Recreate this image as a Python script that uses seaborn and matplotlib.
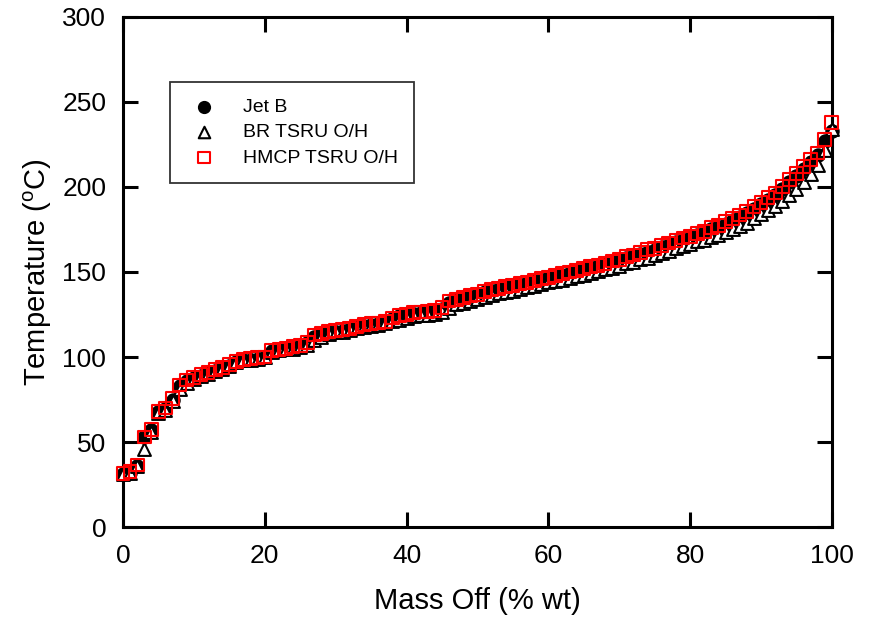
import matplotlib
matplotlib.use("Agg")
import matplotlib.pyplot as plt
import seaborn as sns
import numpy as np
import pandas as pd

# mass off, % wt (one reading per percent)
mass_off = list(range(0, 101))

# boiling temperature, deg C
jet_b = [31, 32, 36, 53, 57, 67.5, 69.5, 75, 83, 86,
         87.5, 89, 90.5, 92, 93.5, 95, 97, 98, 98.5, 99,
         100, 103.5, 104, 104.5, 105.5, 106.5, 108, 112, 113.5, 114.5,
         115, 115.5, 116.5, 117.5, 118.5, 119, 119.5, 120.5, 122.5, 124,
         124.5, 125.5, 126, 126.5, 127, 128.5, 132, 133.5, 134.5, 135.5,
         136.5, 138, 139, 140, 141, 141.5, 142.5, 143.5, 144.5, 145.5,
         146.5, 147.5, 148.5, 149.5, 150.5, 151.5, 152.5, 153.5, 154.5, 155.5,
         157, 158, 159.5, 160.5, 162, 163, 164.5, 166, 167.5, 169,
         170, 171.5, 173, 175, 176.5, 178.5, 180.5, 182.5, 184.5, 187,
         190, 192.5, 195, 199, 203, 206.5, 210.5, 214.5, 219, 227, 233]
br_tsru = [31, 32, 36, 46, 56, 67, 69, 74, 81, 85,
           87, 89, 90, 92, 93, 95, 97, 98, 98.5, 99,
           100, 103, 104, 104.5, 105, 106, 107, 110, 112, 113.5,
           114.5, 115, 116, 117, 117.5, 118, 119, 120, 121, 122,
           123, 124, 124.5, 125, 125.5, 126.5, 129, 131, 132, 133,
           134, 135.5, 136.5, 137.5, 138.5, 139, 140, 141, 142, 143,
           144, 144.5, 145.5, 146.5, 147.5, 148.5, 149.5, 150.5, 151.5, 152.5,
           153.5, 155, 156, 157.5, 158.5, 160, 161, 162.5, 164, 165,
           166.5, 168, 169, 170.5, 172, 173.5, 175.5, 177, 179, 181.5,
           184, 186.5, 189, 192, 195.5, 199, 203, 207.5, 213, 222, 234]
hmcp_tsru = [31.5, 32.5, 36.5, 53, 57.5, 68, 70, 75.5, 83.5, 86.5,
             88, 89.5, 91, 92.5, 94, 95.5, 97.5, 98.5, 99, 99.5,
             100, 104, 104.5, 105, 106, 107, 108.5, 113, 114, 115,
             115.5, 116, 117, 118, 119, 119.5, 120, 121, 123, 124.5,
             125, 126, 126.5, 127, 127.5, 129, 133, 134, 135, 136,
             137, 138.5, 139.5, 140.5, 141.5, 142, 143, 144, 145, 146,
             147, 148, 149, 150, 151, 152, 153, 154, 155, 156.5,
             157.5, 159, 160, 161.5, 163, 164, 165.5, 167, 168.5, 170,
             171, 172.5, 174, 176, 177.5, 179.5, 181.5, 183.5, 185.5, 188.5,
             191, 194, 196.5, 200.5, 204.5, 208, 212, 216, 220, 228, 238]

series_names = ["Jet B", "BR TSRU O/H", "HMCP TSRU O/H"]

df = pd.concat([
    pd.DataFrame({"mass": mass_off, "temp": jet_b, "fuel": series_names[0]}),
    pd.DataFrame({"mass": mass_off, "temp": br_tsru, "fuel": series_names[1]}),
    pd.DataFrame({"mass": mass_off, "temp": hmcp_tsru, "fuel": series_names[2]}),
])

sns.set_style("ticks")
plt.rcParams["font.family"] = ["Liberation Sans", "DejaVu Sans"]
plt.rcParams["mathtext.fontset"] = "custom"
plt.rcParams["mathtext.rm"] = "Liberation Sans"
plt.rcParams["text.color"] = "black"
plt.rcParams["axes.labelcolor"] = "black"
plt.rcParams["xtick.color"] = "black"
plt.rcParams["ytick.color"] = "black"

fig = plt.figure(figsize=(8.72, 6.26), dpi=100)
ax = fig.add_axes([0.141, 0.158, 0.813, 0.815])

styles = {
    "Jet B": dict(marker="o", color="black", edgecolor="black", linewidth=1.2),
    "BR TSRU O/H": dict(marker="^", color="white", edgecolor="black", linewidth=1.5),
    "HMCP TSRU O/H": dict(marker="s", color="none", edgecolor="red", linewidth=1.5),
}
for name in series_names:
    sub = df[df["fuel"] == name]
    sns.scatterplot(data=sub, x="mass", y="temp", ax=ax, s=85, label=name,
                    zorder=3, clip_on=False, **styles[name])

ax.set_xlim(0, 100)
ax.set_ylim(0, 300)
ax.set_xticks(np.arange(0, 101, 20))
ax.set_yticks(np.arange(0, 301, 50))
ax.tick_params(direction="in", length=11, width=2.2, labelsize=19,
               top=True, right=True, pad=12)
for sp in ax.spines.values():
    sp.set_linewidth(2.2)
    sp.set_color("black")

ax.set_xlabel("Mass Off (% wt)", fontsize=21, labelpad=14)
ax.set_ylabel("Temperature ($^{\\mathrm{o}}$C)", fontsize=21, labelpad=6)

leg = ax.legend(loc="upper left", bbox_to_anchor=(0.066, 0.873), borderaxespad=0,
                fontsize=14, frameon=True, fancybox=False, shadow=False,
                handletextpad=1.1, handlelength=1.8, borderpad=0.85,
                labelspacing=0.4, markerscale=0.9)
leg.get_frame().set_edgecolor("black")
leg.get_frame().set_linewidth(1.3)

fig.savefig("out.png", dpi=100)
